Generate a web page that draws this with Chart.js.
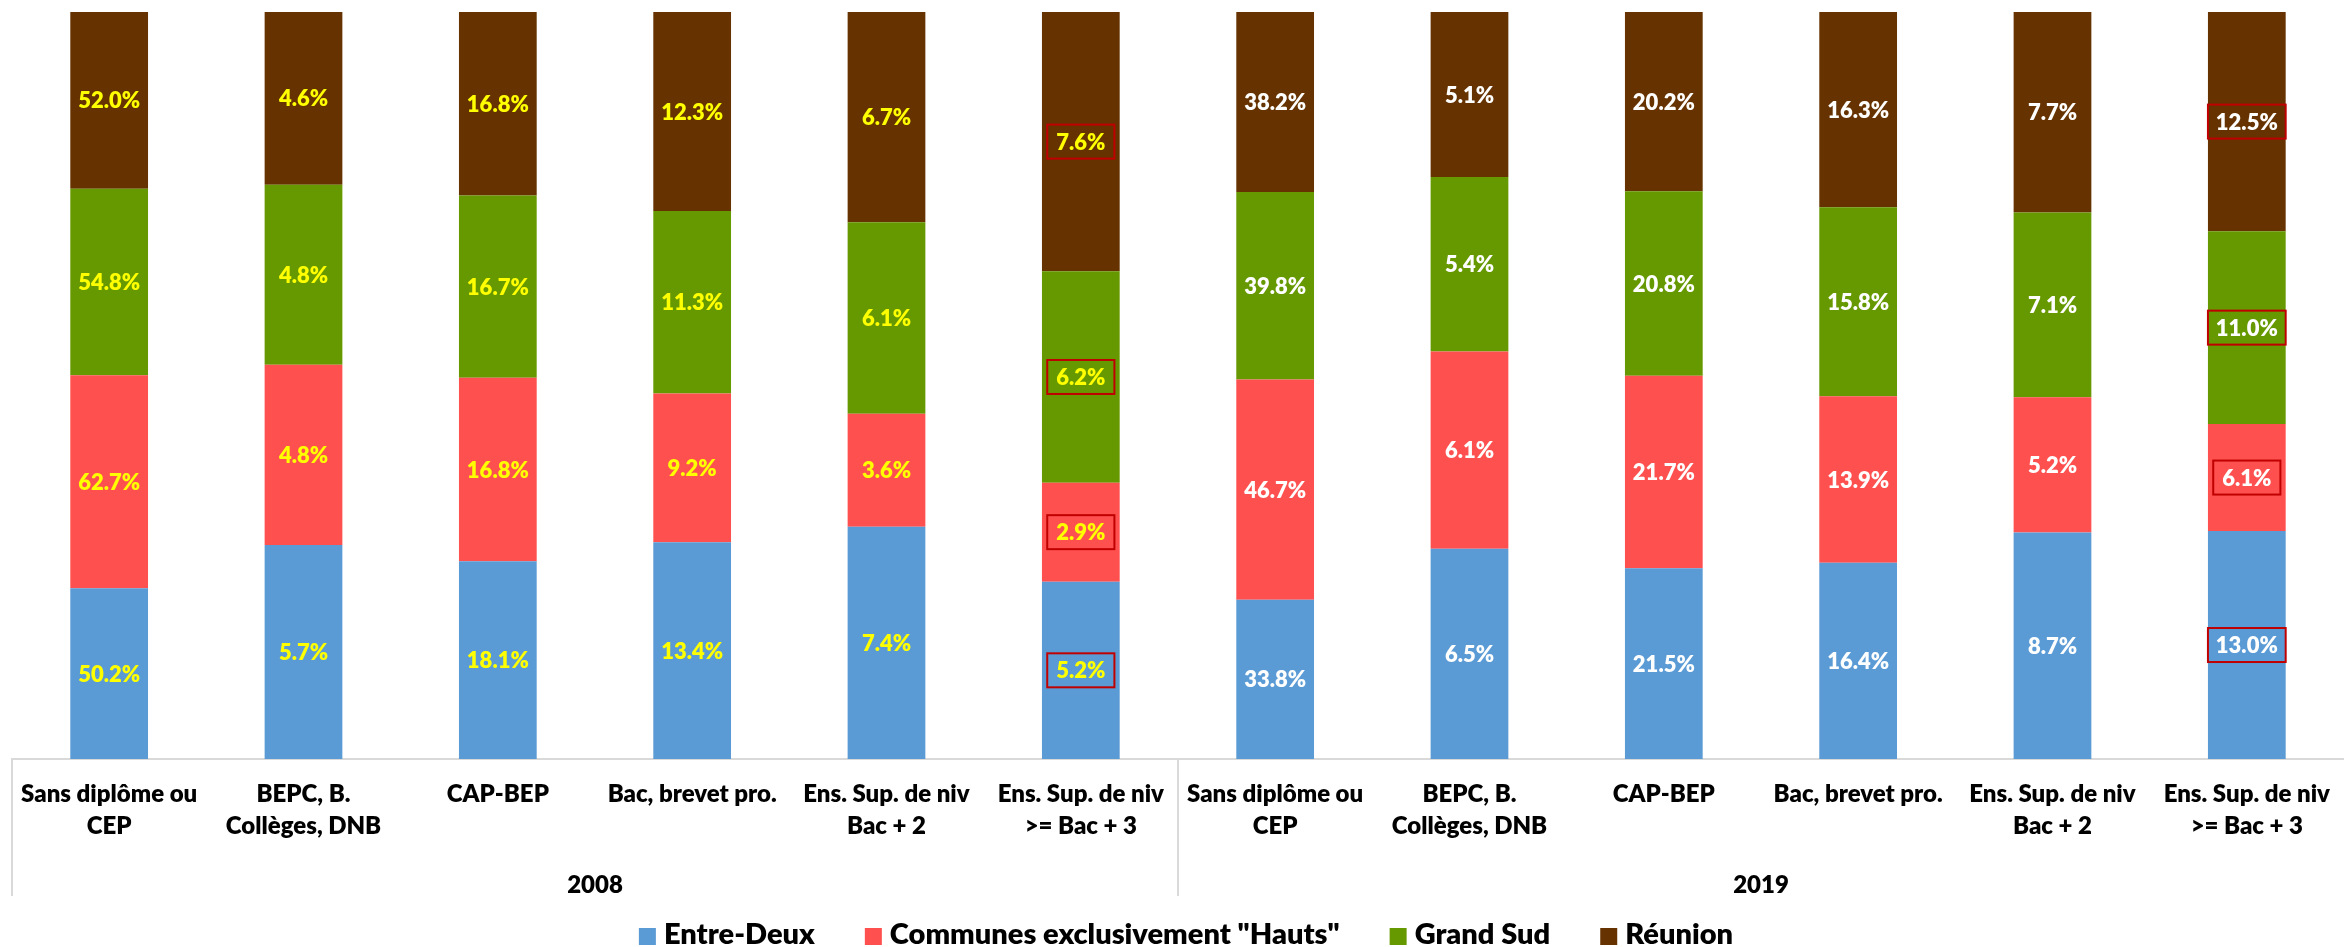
<!DOCTYPE html>
<html>
<head>
<meta charset="utf-8">
<script src="https://cdn.jsdelivr.net/npm/chart.js@4.4.1/dist/chart.umd.min.js"></script>
<style>
  html, body { margin: 0; padding: 0; background: #fff; overflow: hidden; }
  #wrap { width: 2350px; height: 947px; }
</style>
</head>
<body>
<div id="wrap"><canvas id="chart"></canvas></div>
<script>
// categories (two lines where the original wraps), per year
const categories = [
    ['Sans diplôme ou', 'CEP'], ['BEPC, B.', 'Collèges, DNB'], ['CAP-BEP'], ['Bac, brevet pro.'],
    ['Ens. Sup. de niv', 'Bac + 2'], ['Ens. Sup. de niv', '>= Bac + 3'],
    ['Sans diplôme ou', 'CEP'], ['BEPC, B.', 'Collèges, DNB'], ['CAP-BEP'], ['Bac, brevet pro.'],
    ['Ens. Sup. de niv', 'Bac + 2'], ['Ens. Sup. de niv', '>= Bac + 3']
];
const years = ['2008', '2019'];

const entreDeux     = [50.2, 5.7, 18.1, 13.4, 7.4, 5.2, 33.8, 6.5, 21.5, 16.4, 8.7, 13.0];
const communesHauts = [62.7, 4.8, 16.8, 9.2, 3.6, 2.9, 46.7, 6.1, 21.7, 13.9, 5.2, 6.1];
const grandSud      = [54.8, 4.8, 16.7, 11.3, 6.1, 6.2, 39.8, 5.4, 20.8, 15.8, 7.1, 11.0];
const reunion       = [52.0, 4.6, 16.8, 12.3, 6.7, 7.6, 38.2, 5.1, 20.2, 16.3, 7.7, 12.5];

const boxed = [5, 11]; // bars whose labels get a red frame

const FONT = 'Lato';
const series = [
    { label: 'Entre-Deux', values: entreDeux, color: '#5B9BD5' },
    { label: 'Communes exclusivement "Hauts"', values: communesHauts, color: '#FF5050' },
    { label: 'Grand Sud', values: grandSud, color: '#669900' },
    { label: 'Réunion', values: reunion, color: '#663300' }
];

// 100% stacked: each bar is shown as share of its total
const totals = categories.map((_, i) => series.reduce((s, d) => s + d.values[i], 0));

const labelPlugin = {
    id: 'labels',
    afterDatasetsDraw(chart) {
        const ctx = chart.ctx;
        ctx.save();
        ctx.font = '800 22px ' + FONT;
        ctx.textAlign = 'center';
        ctx.textBaseline = 'middle';
        chart.data.datasets.forEach((ds, di) => {
            chart.getDatasetMeta(di).data.forEach((bar, i) => {
                const txt = ds.raw[i].toFixed(1) + '%';
                const cy = (bar.y + bar.base) / 2;
                if (boxed.includes(i)) {
                    const w = Math.min(ctx.measureText(txt).width + 18, bar.width);
                    ctx.strokeStyle = '#C00000';
                    ctx.lineWidth = 2;
                    ctx.strokeRect(bar.x - w / 2, cy - 17, w, 34);
                }
                ctx.fillStyle = i < 6 ? '#FFFF00' : '#FFFFFF';
                ctx.fillText(txt, bar.x, cy + 1);
            });
        });
        ctx.restore();
    },
    afterDraw(chart) {
        const ctx = chart.ctx;
        const x = chart.scales.x;
        const area = chart.chartArea;
        ctx.save();
        // group separators
        ctx.strokeStyle = '#D9D9D9';
        ctx.lineWidth = 2;
        const mid = (x.getPixelForValue(5) + x.getPixelForValue(6)) / 2;
        [area.left, mid].forEach(px => {
            ctx.beginPath();
            ctx.moveTo(px, area.bottom);
            ctx.lineTo(px, 896);
            ctx.stroke();
        });
        // year row
        ctx.fillStyle = '#000';
        ctx.font = '800 24px ' + FONT;
        ctx.textAlign = 'center';
        ctx.textBaseline = 'middle';
        years.forEach((y, g) => {
            const cx = (x.getPixelForValue(g * 6) + x.getPixelForValue(g * 6 + 5)) / 2;
            ctx.fillText(y, cx, 885);
        });
        // legend
        ctx.font = '800 29px ' + FONT;
        ctx.textAlign = 'left';
        ctx.textBaseline = 'alphabetic';
        const box = 17, gapIn = 8, gapOut = 50;
        const items = chart.data.datasets.map(ds => ({ label: ds.label, color: ds.backgroundColor, w: ctx.measureText(ds.label).width }));
        const total = items.reduce((s, it) => s + box + gapIn + it.w, 0) + gapOut * (items.length - 1);
        let lx = 1186 - total / 2;
        items.forEach(it => {
            ctx.fillStyle = it.color;
            ctx.fillRect(lx, 928, box, box);
            ctx.fillStyle = '#000';
            ctx.fillText(it.label, lx + box + gapIn, 944);
            lx += box + gapIn + it.w + gapOut;
        });
        ctx.restore();
    }
};

new Chart(document.getElementById('chart'), {
    type: 'bar',
    data: {
        labels: categories,
        datasets: series.map(s => ({
            label: s.label,
            data: s.values.map((v, i) => v / totals[i] * 100),
            raw: s.values,
            backgroundColor: s.color,
            borderWidth: 0,
            categoryPercentage: 1,
            barPercentage: 0.4
        }))
    },
    options: {
        responsive: true,
        maintainAspectRatio: false,
        animation: false,
        layout: { padding: { top: 12, left: 12, right: 0, bottom: 0 } },
        scales: {
            x: {
                stacked: true,
                grid: { display: false, drawTicks: false },
                border: { display: true, color: '#D9D9D9', width: 2 },
                ticks: {
                    color: '#000',
                    font: { family: FONT, weight: '800', size: 24, lineHeight: 1.3 },
                    padding: 20,
                    maxRotation: 0,
                    autoSkip: false
                },
                afterFit: s => { s.height = 188; }
            },
            y: { stacked: true, display: false, min: 0, max: 100 }
        },
        plugins: {
            legend: { display: false },
            tooltip: { enabled: false }
        }
    },
    plugins: [labelPlugin]
});
</script>
</body>
</html>
